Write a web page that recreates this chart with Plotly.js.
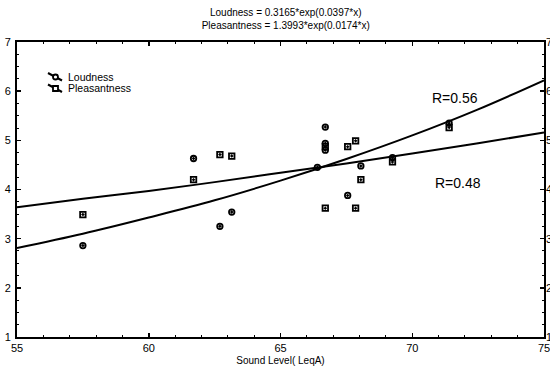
<!DOCTYPE html>
<html>
<head>
<meta charset="utf-8">
<script src="https://cdn.plot.ly/plotly-3.0.1.min.js"></script>
<style>html,body{margin:0;padding:0;background:#fff;}#chart{width:550px;height:376px;}</style>
</head>
<body>
<div id="chart"></div>
<script>
// Observed points
const loudX = [57.5, 61.7, 62.7, 63.15, 66.4, 66.7, 66.7, 66.7, 67.55, 68.05, 69.25, 71.4];
const loudY = [2.86, 4.63, 3.25, 3.54, 4.45, 5.27, 4.94, 4.80, 3.88, 4.48, 4.65, 5.35];
const pleasX = [57.5, 61.7, 62.7, 63.15, 66.7, 66.7, 67.55, 67.85, 67.85, 68.05, 69.25, 71.4];
const pleasY = [3.49, 4.20, 4.71, 4.68, 4.87, 3.62, 4.87, 4.99, 3.62, 4.20, 4.56, 5.26];
// Fitted curves
const fitX = [55, 57.5, 60, 62.5, 65, 67.5, 70, 72.5, 75];
const fitLoud = [2.81, 3.10, 3.43, 3.78, 4.18, 4.62, 5.10, 5.63, 6.22];
const fitPleas = [3.64, 3.81, 3.97, 4.15, 4.34, 4.53, 4.73, 4.94, 5.16];
const yTicks = [1, 2, 3, 4, 5, 6, 7];
const xTicks = [55, 60, 65, 70, 75];
const seriesNames = ['Loudness', 'Pleasantness'];
const titleLines = ['Loudness = 0.3165*exp(0.0397*x)', 'Pleasantness = 1.3993*exp(0.0174*x)'];
const rLabels = [{x: 71.62, y: 5.86, text: 'R=0.56'}, {x: 71.73, y: 4.14, text: 'R=0.48'}];

const font = 'Liberation Sans, Arial, sans-serif';
const traces = [
  {x: fitX, y: fitLoud, mode: 'lines', line: {color: '#000', width: 2, shape: 'spline'}, showlegend: false, hoverinfo: 'skip'},
  {x: fitX, y: fitPleas, mode: 'lines', line: {color: '#000', width: 2, shape: 'spline'}, showlegend: false, hoverinfo: 'skip'},
  {x: loudX, y: loudY, mode: 'markers', name: seriesNames[0], showlegend: false,
   marker: {symbol: 'circle-open-dot', size: 5.5, color: '#000', line: {color: '#000', width: 1.8}}},
  {x: pleasX, y: pleasY, mode: 'markers', name: seriesNames[1], showlegend: false,
   marker: {symbol: 'square-open-dot', size: 5.5, color: '#000', line: {color: '#000', width: 1.8}}},
  {x: [null], y: [null], yaxis: 'y2', showlegend: false, hoverinfo: 'skip'}
];

const axisCommon = {
  showgrid: false, zeroline: false, showline: true, linecolor: '#000', linewidth: 2,
  ticks: 'inside', ticklen: 4, tickwidth: 1.5, tickcolor: '#000',
  tickfont: {family: font, size: 11, color: '#000'}, ticklabeloverflow: 'allow'
};

// Legend key drawn inside the plot (paper coordinates of the plot box)
const PL = 17, PR = 544, PT = 42, PB = 337;
const px = v => (v - PL) / (PR - PL);
const py = v => (PB - v) / (PB - PT);
const legendRows = [77, 88.5];
const shapes = [];
legendRows.forEach((row, i) => {
  shapes.push({type: 'line', xref: 'paper', yref: 'paper', x0: px(48), y0: py(row - 4), x1: px(62), y1: py(row + 3.5),
               line: {color: '#000', width: 2}});
  const s = {xref: 'paper', yref: 'paper', x0: px(53), x1: px(58), y0: py(row + 2.5), y1: py(row - 2.5),
             line: {color: '#000', width: 1.8}, fillcolor: '#fff'};
  s.type = i === 0 ? 'circle' : 'rect';
  shapes.push(s);
});

const annotations = rLabels.map(r => ({x: r.x, y: r.y, xref: 'x', yref: 'y', text: r.text, showarrow: false,
    font: {family: font, size: 14, color: '#000'}}));
legendRows.forEach((row, i) => annotations.push({xref: 'paper', yref: 'paper', x: px(66), y: py(row),
    xanchor: 'left', yanchor: 'middle', text: seriesNames[i], showarrow: false,
    font: {family: font, size: 10.5, color: '#000'}}));

const layout = {
  width: 550, height: 376,
  margin: {l: 17, r: 6, t: 42, b: 39},
  paper_bgcolor: '#fff', plot_bgcolor: '#fff',
  font: {family: font, color: '#000'},
  showlegend: false,
  title: {text: titleLines.join('<br>'), font: {family: font, size: 10, color: '#000'},
          x: 0.51, xanchor: 'center', xref: 'paper', yref: 'paper', y: 1, yanchor: 'bottom', pad: {b: 26}},
  xaxis: Object.assign({}, axisCommon, {
    range: [55, 75], tickvals: xTicks, ticktext: xTicks.map(String), mirror: 'ticks',
    minor: {ticks: 'inside', ticklen: 2, tickwidth: 1, tickcolor: '#000', dtick: 1},
    title: {text: 'Sound Level( LeqA)', font: {family: font, size: 10, color: '#000'}, standoff: 4}
  }),
  yaxis: Object.assign({}, axisCommon, {
    range: [1, 7], tickvals: yTicks, ticktext: yTicks.map(String), mirror: 'ticks',
    minor: {ticks: 'inside', ticklen: 2, tickwidth: 1, tickcolor: '#000', dtick: 0.25}, ticklabelstandoff: 2
  }),
  yaxis2: Object.assign({}, axisCommon, {
    range: [1, 7], tickvals: yTicks, ticktext: yTicks.map(String), overlaying: 'y', side: 'right',
    showline: false, ticks: '', ticklabelstandoff: 1
  }),
  shapes: shapes,
  annotations: annotations
};

Plotly.newPlot('chart', traces, layout, {staticPlot: true, displayModeBar: false});
</script>
</body>
</html>
